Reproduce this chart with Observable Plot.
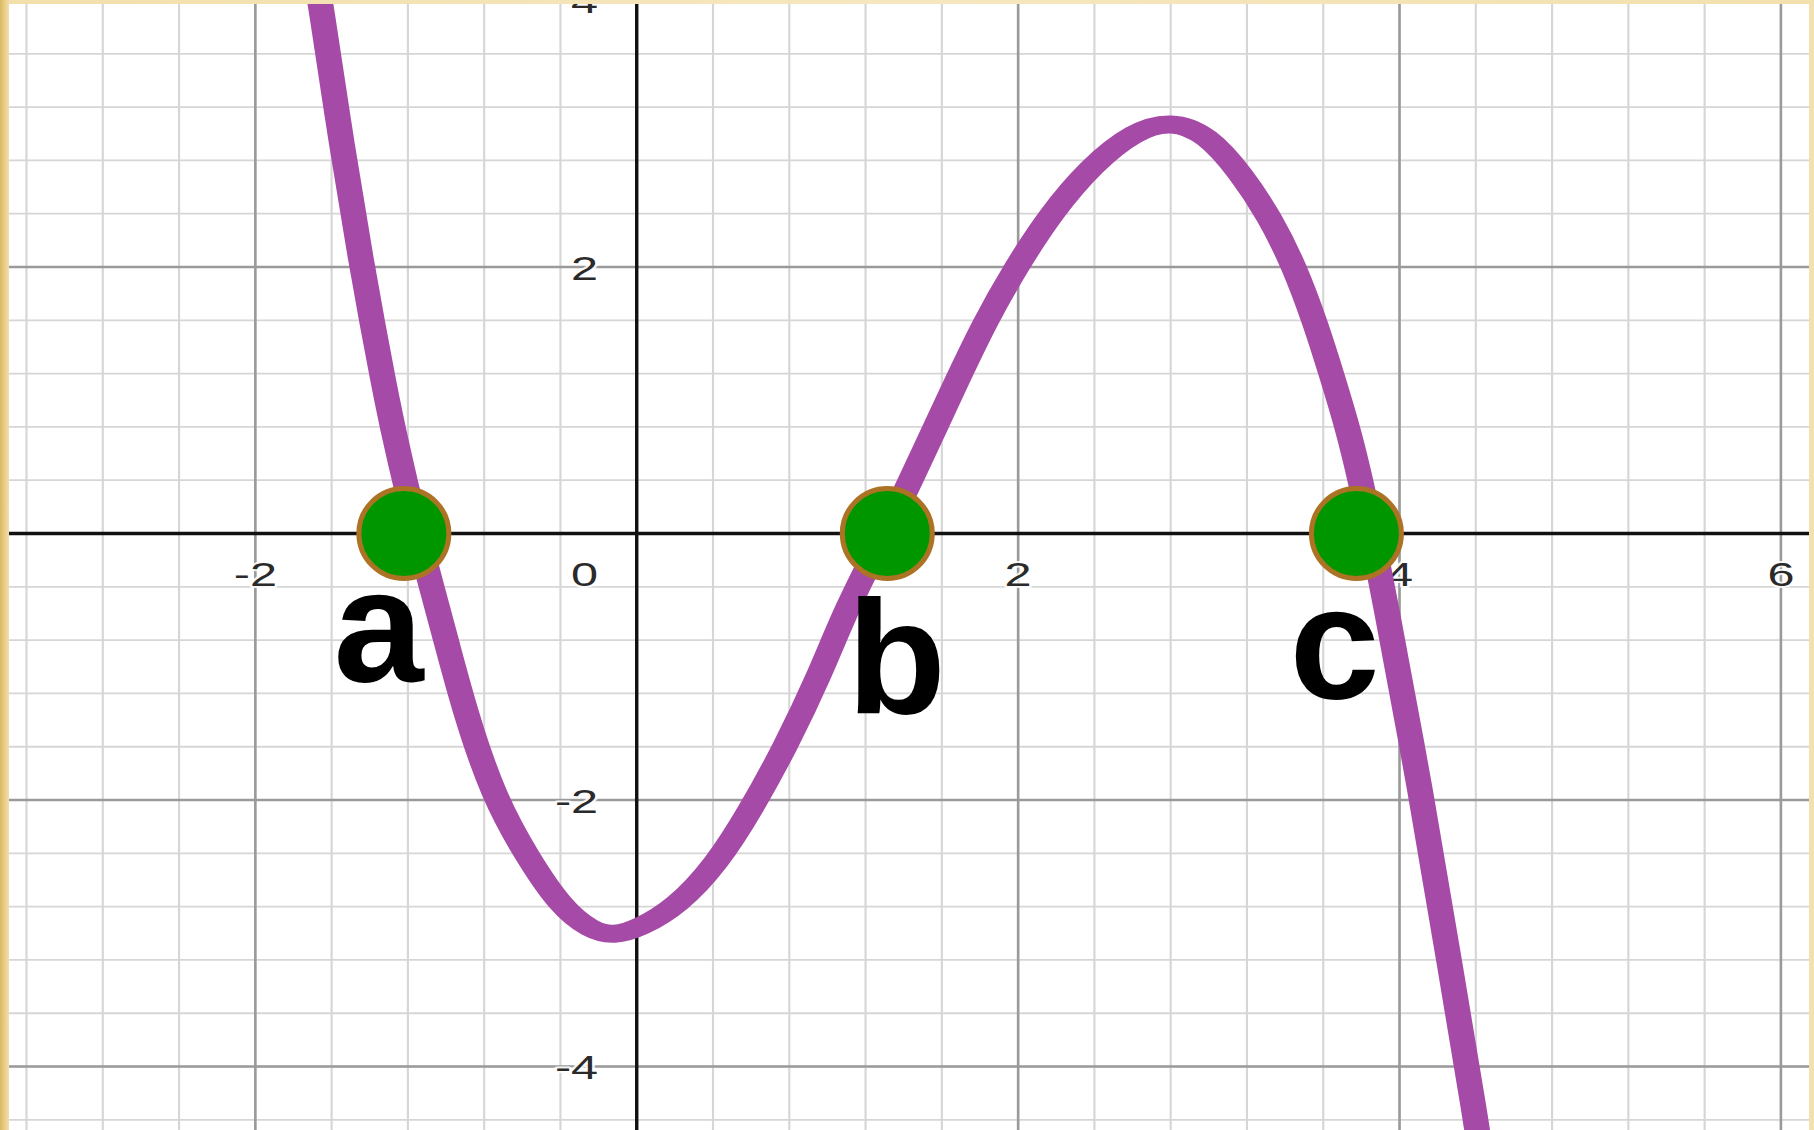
<!DOCTYPE html>
<html>
<head>
<meta charset="utf-8">
<script src="https://cdn.jsdelivr.net/npm/d3@7"></script>
<script src="https://cdn.jsdelivr.net/npm/@observablehq/plot@0.6"></script>
<style>
  html, body { margin: 0; padding: 0; background: #f3e3b3; }
  body { width: 1814px; height: 1130px; overflow: hidden; }
  #frame {
    position: relative; width: 1814px; height: 1130px; overflow: hidden;
    background: linear-gradient(90deg, #d8b862 0px, #e9cf8a 5px, #f2dfab 9px, #f5e7bf 50%, #f2e0ae 100%);
  }
  #base { position: absolute; left: 9px; top: 4px; transform-origin: 0 0; transform: scaleX(1.42971); }
  #over { position: absolute; left: 9px; top: 4px; }
  #base svg, #over svg { max-width: none !important; display: block; }
</style>
</head>
<body>
<div id="frame"><div id="base"></div><div id="over"></div></div>
<script>
// ---- data ----
const curveX = [-1.70, -1.657, -1.543, -1.44, -1.386, -1.333, -1.281, -1.215, -1.15, -1.08, -1.00, -0.90, -0.75, -0.573, -0.40, -0.24, -0.12, 0.016, 0.21, 0.42, 0.60, 0.78, 0.96, 1.10, 1.30, 1.42, 1.66, 1.83, 1.99, 2.17, 2.39, 2.61, 2.80, 2.99, 3.17, 3.32, 3.45, 3.56, 3.648, 3.735, 3.80, 3.855, 3.91, 4.12, 4.26, 4.40, 4.43];
const curveY = [4.35, 3.97, 2.875, 2.0, 1.574, 1.173, 0.798, 0.39, 0.0, -0.378, -0.80, -1.34, -1.98, -2.43, -2.80, -2.98, -3.02, -2.96, -2.80, -2.48, -2.07, -1.60, -1.06, -0.56, 0.0, 0.345, 1.09, 1.60, 2.0, 2.40, 2.77, 3.02, 3.10, 3.00, 2.70, 2.375, 2.0, 1.574, 1.173, 0.76, 0.37, 0.0, -0.40, -2.0, -3.21, -4.40, -4.70];

const rootLabels = ["a", "b", "c"];
const rootX = [-1.22, 1.315, 3.775];
const rootY = [0, 0, 0];
const labelX = [-1.353, 1.363, 3.66];
const labelY = [-1.104, -1.344, -1.231];

const xTickLabels = [-2, 2, 4, 6];
const yTickLabels = [-4, -2, 2, 4];
const originLabel = [0];

const majorX = [-2, 2, 4, 6];
const majorY = [-4, -2, 2, 4];
const minorX = [-3.2, -2.8, -2.4, -2.0, -1.6, -1.2, -0.8, -0.4, 0.4, 0.8, 1.2, 1.6, 2.0, 2.4, 2.8, 3.2, 3.6, 4.0, 4.4, 4.8, 5.2, 5.6, 6.0];
const minorY = [3.6, 3.2, 2.8, 2.4, 2.0, 1.6, 1.2, 0.8, 0.4, -0.4, -0.8, -1.2, -1.6, -2.0, -2.4, -2.8, -3.2, -3.6, -4.0, -4.4];

const xDomain = [-3.288, 6.151];
const yDomain = [-4.48, 3.97];

// ---- layer 1: the (horizontally stretched) graph ----
const curve = curveX.map((x, i) => ({x, y: curveY[i]}));
const tickFont = {fontFamily: "Liberation Sans, Arial, sans-serif", fontSize: 34, fill: "#2a2a2a", stroke: "white", strokeWidth: 4, strokeOpacity: 0.85};

const base = Plot.plot({
  width: 1259, height: 1126, margin: 0,
  x: {domain: xDomain, axis: null},
  y: {domain: yDomain, axis: null},
  style: {background: "#ffffff", maxWidth: "none"},
  marks: [
    Plot.ruleX(minorX, {stroke: "#d6d6d6", strokeWidth: 1.5}),
    Plot.ruleY(minorY, {stroke: "#d6d6d6", strokeWidth: 1.8}),
    Plot.ruleX(majorX, {stroke: "#9a9a9a", strokeWidth: 1.8}),
    Plot.ruleY(majorY, {stroke: "#9a9a9a", strokeWidth: 2.4}),
    Plot.ruleX([0], {stroke: "#111", strokeWidth: 2.4}),
    Plot.ruleY([0], {stroke: "#111", strokeWidth: 3.4}),
    Plot.text(xTickLabels, {x: d => d, y: 0, text: d => String(d), dy: 42, textAnchor: "middle", ...tickFont}),
    Plot.text(yTickLabels, {x: 0, y: d => d, text: d => String(d), dx: -27, dy: 2, textAnchor: "end", ...tickFont}),
    Plot.text(originLabel, {x: 0, y: 0, text: d => String(d), dx: -27, dy: 42, textAnchor: "end", ...tickFont}),
    Plot.line(curve, {x: "x", y: "y", stroke: "#a54aa6", strokeWidth: 18, curve: "basis", clip: true, strokeLinecap: "round", strokeLinejoin: "round"})
  ]
});
document.getElementById("base").appendChild(base);

// ---- layer 2: root markers and their letters ----
const over = Plot.plot({
  width: 1800, height: 1126, margin: 0,
  x: {domain: xDomain, axis: null},
  y: {domain: yDomain, axis: null},
  style: {background: "transparent", maxWidth: "none"},
  marks: [
    Plot.dot(rootLabels, {x: (d, i) => rootX[i], y: (d, i) => rootY[i], r: 45, fill: "#009600", stroke: "#ad7324", strokeWidth: 5}),
    Plot.text(rootLabels, {x: (d, i) => labelX[i], y: (d, i) => labelY[i], text: d => d, lineAnchor: "bottom", textAnchor: "middle",
      fontSize: 162, fontWeight: "bold", fontFamily: "Liberation Sans, Arial, sans-serif", fill: "#000"})
  ]
});
document.getElementById("over").appendChild(over);
</script>
</body>
</html>
